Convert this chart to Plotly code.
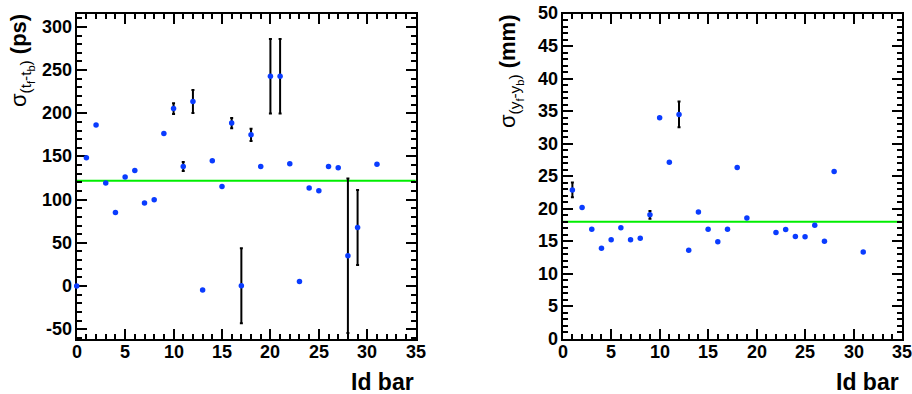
import plotly.graph_objects as go

# ---------------- data ----------------
# Left panel: sigma(t_f - t_b) in ps vs bar id
bar_t = [0, 1, 2, 3, 4, 5, 6, 7, 8, 9, 10, 11, 12, 13, 14, 15, 16, 17, 18, 19,
         20, 21, 22, 23, 24, 25, 26, 27, 28, 29, 31]
sigma_t = [0, 148.5, 186.3, 119.2, 85.2, 126.1, 133.8, 96.0, 99.9, 176.6,
           205.5, 138.4, 213.6, -4.6, 145.0, 115.3, 188.6, 0.4, 175.0, 138.4,
           242.9, 242.9, 141.5, 5.4, 113.4, 110.3, 138.4, 136.9, 35.1, 67.9, 141.1]
err_t = [0, 0, 0, 0, 0, 0, 0, 0, 0, 0,
         6.2, 5.2, 13.3, 0, 0, 0, 6.0, 43.4, 7.0, 0,
         43.2, 43.2, 0, 0, 0, 0, 0, 0, 89.5, 43.4, 0]
mean_t = 121.8

# Right panel: sigma(y_f - y_b) in mm vs bar id
bar_y = [1, 2, 3, 4, 5, 6, 7, 8, 9, 10, 11, 12, 13, 14, 15, 16, 17, 18, 19,
         22, 23, 24, 25, 26, 27, 28, 31]
sigma_y = [22.9, 20.2, 16.87, 13.94, 15.23, 17.08, 15.23, 15.48, 19.08, 34.0,
           27.16, 34.5, 13.63, 19.5, 16.87, 14.92, 16.87, 26.34, 18.57,
           16.36, 16.82, 15.74, 15.69, 17.49, 15.02, 25.72, 13.37]
err_y = [1.13, 0, 0, 0, 0, 0, 0, 0, 0.59, 0,
         0, 1.98, 0, 0, 0, 0, 0, 0, 0,
         0, 0, 0, 0, 0, 0, 0, 0]
mean_y = 18.0

# axes and tick labels
x_range = [0, 35]
x_ticks = [0, 5, 10, 15, 20, 25, 30, 35]
x_ticklabels = ["0", "5", "10", "15", "20", "25", "30", "35"]
yt_range = [-61.3, 315.5]
yt_ticks = [-50, 0, 50, 100, 150, 200, 250, 300]
yt_ticklabels = ["-50", "0", "50", "100", "150", "200", "250", "300"]
yy_range = [0, 50]
yy_ticks = [0, 5, 10, 15, 20, 25, 30, 35, 40, 45, 50]
yy_ticklabels = ["0", "5", "10", "15", "20", "25", "30", "35", "40", "45", "50"]

x_title = "Id bar"


def small(s):
    return "<span style='font-size:11px;baseline-shift:-4px'>" + s + "</span>"


yt_title = "σ<sub>(t" + small("f") + "-t" + small("b") + ")</sub> <b>(ps)</b>"
yy_title = "σ<sub>(y" + small("f") + "-y" + small("b") + ")</sub> <b>(mm)</b>"

# ---------------- style ----------------
FONT = "Liberation Sans"
BLUE = "#0a3cff"
GREEN = "#00ee00"
TICKSIZE = 18

fig = go.Figure()


def add_panel(xs, ys, es, xa, ya):
    fig.add_trace(go.Scatter(
        x=xs, y=ys, mode="markers", xaxis=xa, yaxis=ya, cliponaxis=False,
        marker=dict(color=BLUE, size=5.5, line=dict(width=0)),
        error_y=dict(type="data", array=es, visible=True, color="black",
                     thickness=2, width=1.5),
        showlegend=False, hoverinfo="x+y"))


add_panel(bar_t, sigma_t, err_t, "x", "y")
add_panel(bar_y, sigma_y, err_y, "x2", "y2")

W, H = 912, 394
left_dom = [76.7 / W, 415.7 / W]
right_dom = [562.7 / W, 902.0 / W]
ydom = [(H - 339.0) / H, (H - 13.5) / H]


def axis(tickvals, minor_dtick, dom, anchor, rng):
    return dict(tickmode="array", tickvals=tickvals, showticklabels=False,
                domain=dom, anchor=anchor, range=rng,
                ticks="inside", ticklen=10, tickwidth=1.5, tickcolor="black",
                mirror="allticks", showline=True, linecolor="black", linewidth=2,
                showgrid=False, zeroline=False, layer="below traces",
                minor=dict(dtick=minor_dtick, tick0=0, ticks="inside", ticklen=5,
                           tickwidth=1.5, tickcolor="black", showgrid=False))


tick_font = dict(family=FONT, size=TICKSIZE, color="black")
title_font = dict(family=FONT, size=22, color="black")

annotations = []
# x tick labels (placed through the x axes' data scale)
for xref in ("x", "x2"):
    for v, t in zip(x_ticks, x_ticklabels):
        annotations.append(dict(text="<b>" + t + "</b>", xref=xref, yref="paper",
                                x=v, y=(H - 352) / H, xanchor="center",
                                yanchor="middle", showarrow=False, font=tick_font))
# y tick labels (placed through the y axes' data scale)
for yref, xpix, tv, tt in (("y", left_dom[0] * W - 3, yt_ticks, yt_ticklabels),
                           ("y2", right_dom[0] * W - 3, yy_ticks, yy_ticklabels)):
    for v, t in zip(tv, tt):
        annotations.append(dict(text="<b>" + t + "</b>", xref="paper", yref=yref,
                                x=xpix / W, y=v, xanchor="right",
                                yanchor="middle", showarrow=False, font=tick_font))

annotations += [
    dict(text="<b>" + x_title + "</b>", xref="paper", yref="paper",
         x=416 / W, y=(H - 382) / H,
         xanchor="right", yanchor="middle", showarrow=False,
         font=dict(family=FONT, size=23, color="black")),
    dict(text="<b>" + x_title + "</b>", xref="paper", yref="paper",
         x=901 / W, y=(H - 382) / H,
         xanchor="right", yanchor="middle", showarrow=False,
         font=dict(family=FONT, size=23, color="black")),
    dict(text=yt_title, xref="paper", yref="paper", x=4 / W, y=(H - 12) / H,
         xanchor="left", yanchor="top", textangle=-90, showarrow=False,
         font=title_font),
    dict(text=yy_title, xref="paper", yref="paper", x=493 / W, y=(H - 13) / H,
         xanchor="left", yanchor="top", textangle=-90, showarrow=False,
         font=title_font),
]

fig.update_layout(
    width=W, height=H, margin=dict(l=0, r=0, t=0, b=0),
    paper_bgcolor="white", plot_bgcolor="white",
    xaxis=axis(x_ticks, 1, left_dom, "y", x_range),
    yaxis=axis(yt_ticks, 10, ydom, "x", yt_range),
    xaxis2=axis(x_ticks, 1, right_dom, "y2", x_range),
    yaxis2=axis(yy_ticks, 1, ydom, "x2", yy_range),
    shapes=[
        dict(type="line", xref="x domain", yref="y", x0=0, x1=1,
             y0=mean_t, y1=mean_t, line=dict(color=GREEN, width=2), layer="below"),
        dict(type="line", xref="x2 domain", yref="y2", x0=0, x1=1,
             y0=mean_y, y1=mean_y, line=dict(color=GREEN, width=2), layer="below"),
    ],
    annotations=annotations,
)

fig.write_html("out.html")
